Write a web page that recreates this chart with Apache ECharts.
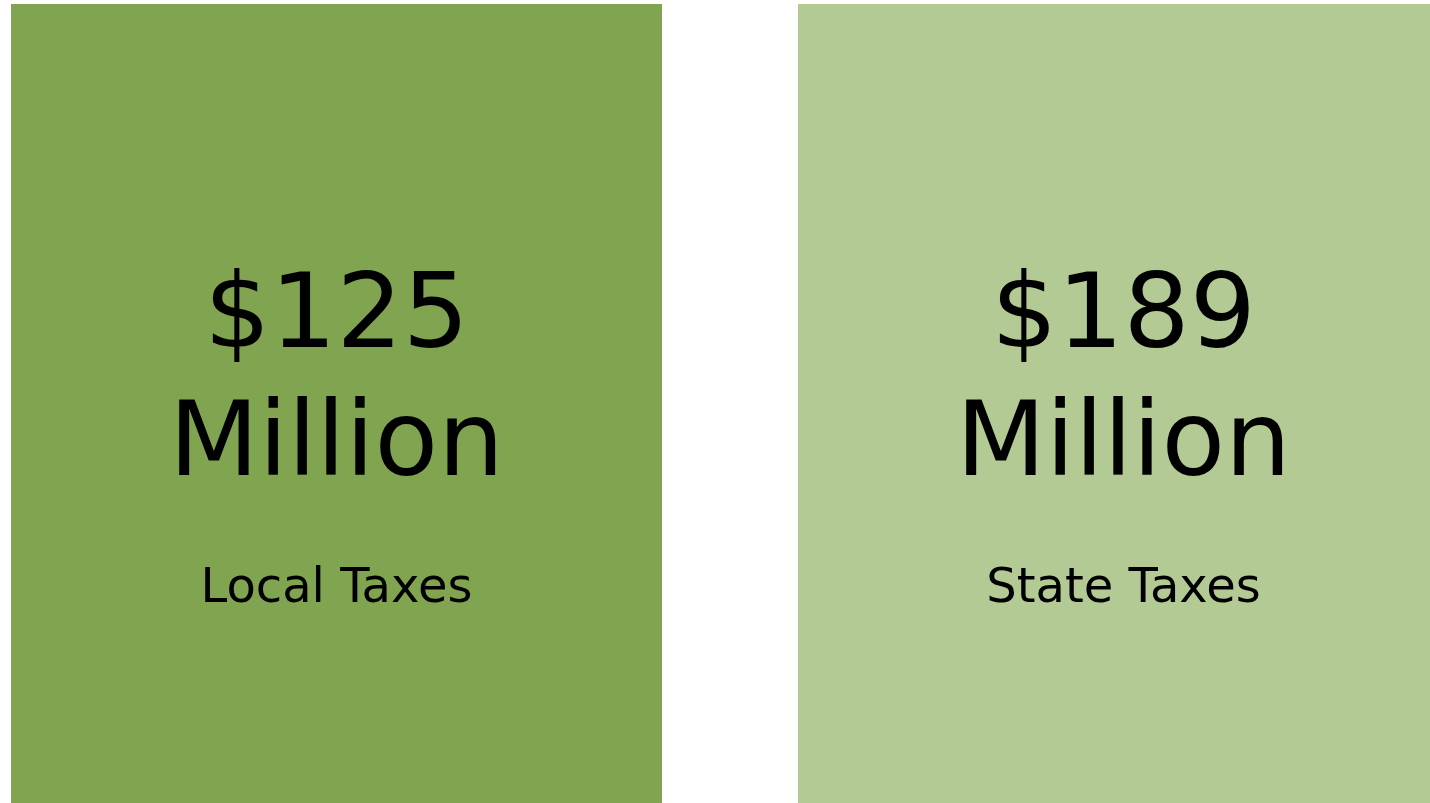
<!DOCTYPE html>
<html>
<head>
<meta charset="utf-8">
<script src="https://cdn.jsdelivr.net/npm/echarts@6/dist/echarts.min.js"></script>
<style>
  html, body { margin: 0; padding: 0; background: #fff; }
  #chart { width: 1430px; height: 803px; }
</style>
</head>
<body>
<div id="chart"></div>
<script>
const categories = ['Local Taxes', 'State Taxes']
const amounts = ['$125', '$189']
const units = ['Million', 'Million']
const fills = ['#80A44F', '#B4CA94']

const chart = echarts.init(document.getElementById('chart'))

const option = {
  animation: false,
  grid: { left: -57, right: -87, top: 4, bottom: 0, outerBoundsMode: 'none' },
  xAxis: {
    type: 'category',
    data: categories,
    show: false
  },
  yAxis: { type: 'value', min: 0, max: 1, show: false },
  series: [
    {
      type: 'bar',
      barWidth: 651,
      data: categories.map((c, i) => ({
        value: 1,
        itemStyle: { color: fills[i] }
      })),
      label: {
        show: true,
        position: 'inside',
        offset: [0, 58],
        color: '#000',
        fontFamily: 'DejaVu Sans',
        formatter: (p) => '{big|' + amounts[p.dataIndex] + '}\n{big|' + units[p.dataIndex] + '}\n{small|' + categories[p.dataIndex] + '}',
        rich: {
          big: { fontSize: 104, lineHeight: 128, color: '#000', fontFamily: 'DejaVu Sans', align: 'center' },
          small: { fontSize: 48, lineHeight: 156, color: '#000', fontFamily: 'DejaVu Sans', align: 'center' }
        }
      }
    }
  ]
}
chart.setOption(option)
</script>
</body>
</html>
